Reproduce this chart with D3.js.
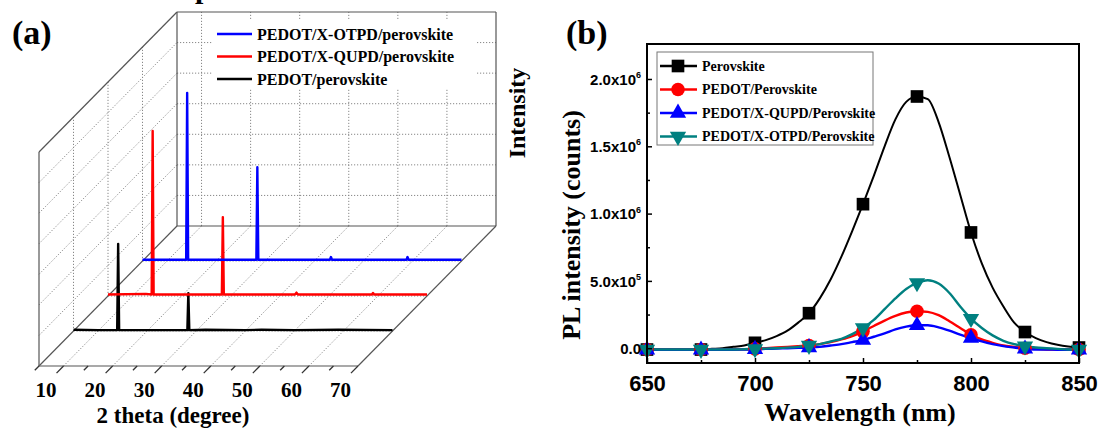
<!DOCTYPE html>
<html>
<head>
<meta charset="utf-8">
<script src="https://cdn.jsdelivr.net/npm/d3@7"></script>
<style>
  body { margin: 0; background: #fff; }
  svg { display: block; font-family: "Liberation Serif", "Times New Roman", serif; font-weight: bold; }
</style>
</head>
<body>
<svg id="fig" width="1099" height="429"></svg>
<script>
// ---------- panel (a): XRD patterns, [2theta, intensity a.u.] ----------
const xrdNames = ["PEDOT/perovskite", "PEDOT/X-QUPD/perovskite", "PEDOT/X-OTPD/perovskite"];
const xrdColors = ["#000000", "#ff0000", "#0000ff"];
const xrdBlack = [[5,0.04],[10,0.03],[13.9,0.03],[14.1,2.85],[14.3,0.03],[20,0.03],[28.2,0.03],[28.4,1.24],[28.6,0.03],[31.9,0.04],[40,0.03],[43.3,0.04],[50,0.03],[59,0.04],[70,0.03]];
const xrdRed = [[5,0.05],[12.7,0.07],[13.9,0.05],[14.1,5.4],[14.3,0.05],[20,0.05],[28.2,0.05],[28.4,2.58],[28.6,0.05],[40,0.05],[43.1,0.05],[43.4,0.11],[43.7,0.05],[58.8,0.05],[59.0,0.1],[59.2,0.05],[70,0.05]];
const xrdBlue = [[5,0.04],[13.9,0.04],[14.1,5.5],[14.3,0.04],[20,0.04],[28.2,0.04],[28.4,3.07],[28.6,0.04],[40,0.04],[43.2,0.04],[43.4,0.13],[43.6,0.04],[58.8,0.04],[59.0,0.13],[59.2,0.04],[70,0.04]];
const xrdSeries = [xrdBlack, xrdRed, xrdBlue];
const thetaTicks = [10, 20, 30, 40, 50, 60, 70];
const thetaMinor = [5, 15, 25, 35, 45, 55, 65];

// ---------- panel (b): PL spectra (x1e6 counts) ----------
const wl = [650,655,660,665,670,675,680,685,690,695,700,705,710,715,720,725,730,735,740,745,750,755,760,765,770,775,780,785,790,795,800,805,810,815,820,825,830,835,840,845,850];
const plPerovskite = [-0.01,-0.01,-0.01,-0.01,-0.01,-0.01,-0.005,0.0,0.01,0.02,0.04,0.06,0.09,0.13,0.19,0.26,0.37,0.51,0.68,0.87,1.07,1.28,1.50,1.70,1.83,1.87,1.85,1.68,1.42,1.14,0.86,0.63,0.45,0.31,0.19,0.12,0.075,0.045,0.025,0.012,0.005];
const plPedot = [-0.01,-0.01,-0.01,-0.01,-0.01,-0.01,-0.01,-0.01,-0.01,-0.008,-0.005,0.0,0.005,0.01,0.015,0.02,0.03,0.045,0.065,0.09,0.125,0.165,0.205,0.24,0.265,0.275,0.27,0.245,0.2,0.15,0.1,0.065,0.04,0.02,0.01,0.0,-0.005,-0.01,-0.01,-0.01,-0.01];
const plQupd = [-0.012,-0.012,-0.012,-0.012,-0.012,-0.012,-0.012,-0.012,-0.012,-0.01,-0.008,-0.005,-0.003,0.0,0.002,0.005,0.01,0.02,0.03,0.045,0.06,0.085,0.11,0.14,0.16,0.17,0.17,0.155,0.13,0.1,0.075,0.05,0.03,0.015,0.005,-0.005,-0.01,-0.01,-0.012,-0.012,-0.012];
const plOtpd = [-0.01,-0.01,-0.01,-0.01,-0.01,-0.01,-0.01,-0.01,-0.01,-0.008,-0.005,-0.003,0.0,0.004,0.01,0.02,0.03,0.05,0.07,0.105,0.15,0.21,0.29,0.37,0.44,0.485,0.505,0.48,0.41,0.31,0.22,0.15,0.095,0.055,0.03,0.015,0.005,0.0,-0.005,-0.01,-0.01];
const plNames = ["Perovskite", "PEDOT/Perovskite", "PEDOT/X-QUPD/Perovskite", "PEDOT/X-OTPD/Perovskite"];
const plColors = ["#000000", "#ff0000", "#0000ff", "#008080"];
const plData = [plPerovskite, plPedot, plQupd, plOtpd];
const wlTicks = [650, 700, 750, 800, 850];
const wlMinor = [675, 725, 775, 825];
const plTicks = [0, 0.5, 1.0, 1.5, 2.0];
const plMinor = [0.25, 0.75, 1.25, 1.75];

const svg = d3.select("#fig");

// glyph cut off at the very top edge (as in the source figure)
svg.append("text").attr("x", 195).attr("y", -2).attr("font-size", 30).text("p");

// ================= panel (a) =================
const ga = svg.append("g");
const ax0 = 39, ay0 = 366, ddx = 138, ddy = -140;
const xT = d3.scaleLinear().domain([5, 70]).range([0, 319]);
const zI = d3.scaleLinear().domain([0, 7]).range([0, 214]);
const dS = d3.scaleLinear().domain([0, 4]).range([0, 1]);
const P = (t, d, z) => [ax0 + xT(t) + dS(d) * ddx, ay0 + dS(d) * ddy - zI(z)];

const seg = (p, q) => ga.append("line")
  .attr("x1", p[0]).attr("y1", p[1]).attr("x2", q[0]).attr("y2", q[1]);

// dotted grid
const gridStyle = s => s.attr("stroke", "#888").attr("stroke-width", 1).attr("stroke-dasharray", "1.2,1.8");
for (let k = 1; k < 7; k++) {
  gridStyle(seg(P(5, 4, k), P(70, 4, k)));     // back wall
  gridStyle(seg(P(5, 0, k), P(5, 4, k)));      // left wall
}
thetaTicks.filter(t => t < 70).forEach(t => {
  gridStyle(seg(P(t, 4, 0), P(t, 4, 7)));      // back wall verticals
  gridStyle(seg(P(t, 0, 0), P(t, 4, 0)));      // floor
});
[1, 2, 3].forEach(d => {
  gridStyle(seg(P(5, d, 0), P(5, d, 7)));      // left wall verticals
  gridStyle(seg(P(5, d, 0), P(70, d, 0)));     // floor depth lines
});

// box edges
const edge = s => s.attr("stroke", "#555").attr("stroke-width", 1.2);
edge(seg(P(5, 4, 7), P(70, 4, 7)));
edge(seg(P(70, 4, 7), P(70, 4, 0)));
edge(seg(P(5, 4, 7), P(5, 4, 0)));
edge(seg(P(5, 4, 0), P(70, 4, 0)));
edge(seg(P(5, 0, 7), P(5, 4, 7)));
edge(seg(P(5, 0, 7), P(5, 0, 0)));
edge(seg(P(5, 0, 0), P(70, 0, 0)));
edge(seg(P(70, 0, 0), P(70, 4, 0)));
edge(seg(P(5, 0, 0), P(5, 4, 0)));

// ticks and labels on front edge
const tdx = -0.702, tdy = 0.712;
thetaTicks.concat(thetaMinor).forEach(t => {
  const p = P(t, 0, 0), len = thetaTicks.includes(t) ? 10 : 6;
  seg(p, [p[0] + tdx * len, p[1] + tdy * len]).attr("stroke", "#333").attr("stroke-width", 1.3);
});
ga.selectAll("text.tl").data(thetaTicks).join("text").attr("class", "tl")
  .attr("x", t => P(t, 0, 0)[0] - 17.5).attr("y", 397)
  .attr("text-anchor", "middle").attr("font-size", 21).text(t => t);

// series
xrdSeries.forEach((s, i) => {
  const dep = i + 1;
  ga.append("path").datum(s)
    .attr("fill", "none").attr("stroke", xrdColors[i]).attr("stroke-width", 2.4)
    .attr("stroke-linejoin", "round")
    .attr("d", d3.line().x(p => P(p[0], dep, p[1])[0]).y(p => P(p[0], dep, p[1])[1]));
});

// legend (a)
ga.append("rect").attr("x", 213).attr("y", 20).attr("width", 264).attr("height", 69).attr("fill", "#fff");
[2, 1, 0].forEach((si, r) => {
  const y = 34 + r * 22.5;
  ga.append("line").attr("x1", 217).attr("x2", 252).attr("y1", y).attr("y2", y)
    .attr("stroke", xrdColors[si]).attr("stroke-width", 2.5);
  ga.append("text").attr("x", 257).attr("y", y).attr("dy", "0.35em")
    .attr("font-size", 16).text(xrdNames[si]);
});

ga.append("text").attr("transform", "translate(525,113) rotate(-90)")
  .attr("text-anchor", "middle").attr("font-size", 24).text("Intensity");
ga.append("text").attr("x", 173).attr("y", 423).attr("text-anchor", "middle")
  .attr("font-size", 23).text("2 theta (degree)");
ga.append("text").attr("x", 12).attr("y", 44).attr("font-size", 34).text("(a)");

// ================= panel (b) =================
const gb = svg.append("g");
const x = d3.scaleLinear().domain([650, 850]).range([647, 1079]);
const y = d3.scaleLinear().domain([-0.11, 2.26]).range([363, 44]);

const line = d3.line().x((v, i) => x(wl[i])).y(v => y(v)).curve(d3.curveMonotoneX);
const symbols = [
  d3.symbol().type(d3.symbolSquare).size(160),
  d3.symbol().type(d3.symbolCircle).size(145),
  d3.symbol().type(d3.symbolTriangle).size(115),
  d3.symbol().type(d3.symbolTriangle).size(115)
];
const rot = [0, 0, 0, 180];

plData.forEach((s, i) => {
  gb.append("path").datum(s).attr("fill", "none")
    .attr("stroke", plColors[i]).attr("stroke-width", i === 0 ? 2 : 2.4)
    .attr("d", line);
});
plData.forEach((s, i) => {
  const pts = wl.map((w, j) => [w, s[j]]).filter(p => p[0] % 25 === 0);
  gb.selectAll(null).data(pts).join("path")
    .attr("transform", p => `translate(${x(p[0])},${y(p[1])}) rotate(${rot[i]})`)
    .attr("d", symbols[i]()).attr("fill", plColors[i]);
});

// axes (ticks point inward)
const xAx = gb.append("g").attr("transform", "translate(0,363)")
  .call(d3.axisBottom(x).tickValues(wlTicks).tickSize(-5).tickPadding(12).tickFormat(d3.format("d")));
gb.append("g").attr("transform", "translate(0,363)")
  .call(d3.axisBottom(x).tickValues(wlMinor).tickSize(-3).tickFormat(""));
const yAx = gb.append("g").attr("transform", "translate(647,0)")
  .call(d3.axisLeft(y).tickValues(plTicks).tickSize(-5).tickPadding(6));
gb.append("g").attr("transform", "translate(647,0)")
  .call(d3.axisLeft(y).tickValues(plMinor).tickSize(-3).tickFormat(""));
gb.selectAll(".domain").remove();
gb.selectAll(".tick line").attr("stroke", "#000").attr("stroke-width", 1.5);
xAx.selectAll("text").attr("font-size", 22).attr("font-family", null).attr("fill", "#000");
yAx.selectAll("text").attr("font-size", 15).attr("font-family", null).attr("fill", "#000")
  .attr("dy", "0.35em")
  .each(function(v) {
    const t = d3.select(this).text("");
    if (v === 0) { t.text("0.0"); return; }
    const e = Math.floor(Math.log10(v * 1e6));
    const m = (v * 1e6) / Math.pow(10, e);
    t.append("tspan").text(m.toFixed(1) + "x10");
    t.append("tspan").attr("font-size", 9).attr("dy", "-0.75em").text(e);
  });

gb.append("rect").attr("x", 647).attr("y", 44).attr("width", 432).attr("height", 319)
  .attr("fill", "none").attr("stroke", "#000").attr("stroke-width", 2);

// legend (b)
gb.append("rect").attr("x", 657).attr("y", 52).attr("width", 216).attr("height", 93)
  .attr("fill", "#fff").attr("stroke", "#777").attr("stroke-width", 1);
plNames.forEach((n, i) => {
  const ly = 66 + i * 23.5;
  gb.append("line").attr("x1", 660).attr("x2", 697).attr("y1", ly).attr("y2", ly)
    .attr("stroke", plColors[i]).attr("stroke-width", 2.4);
  gb.append("path").attr("transform", `translate(678,${ly}) rotate(${rot[i]})`)
    .attr("d", symbols[i]()).attr("fill", plColors[i]);
  gb.append("text").attr("x", 702).attr("y", ly).attr("dy", "0.35em")
    .attr("font-size", 14).text(n);
});

gb.append("text").attr("x", 860).attr("y", 421).attr("text-anchor", "middle")
  .attr("font-size", 26).text("Wavelength (nm)");
gb.append("text").attr("transform", "translate(580,225) rotate(-90)")
  .attr("text-anchor", "middle").attr("font-size", 26).text("PL intensity (counts)");
gb.append("text").attr("x", 566).attr("y", 44).attr("font-size", 34).text("(b)");
</script>
</body>
</html>
